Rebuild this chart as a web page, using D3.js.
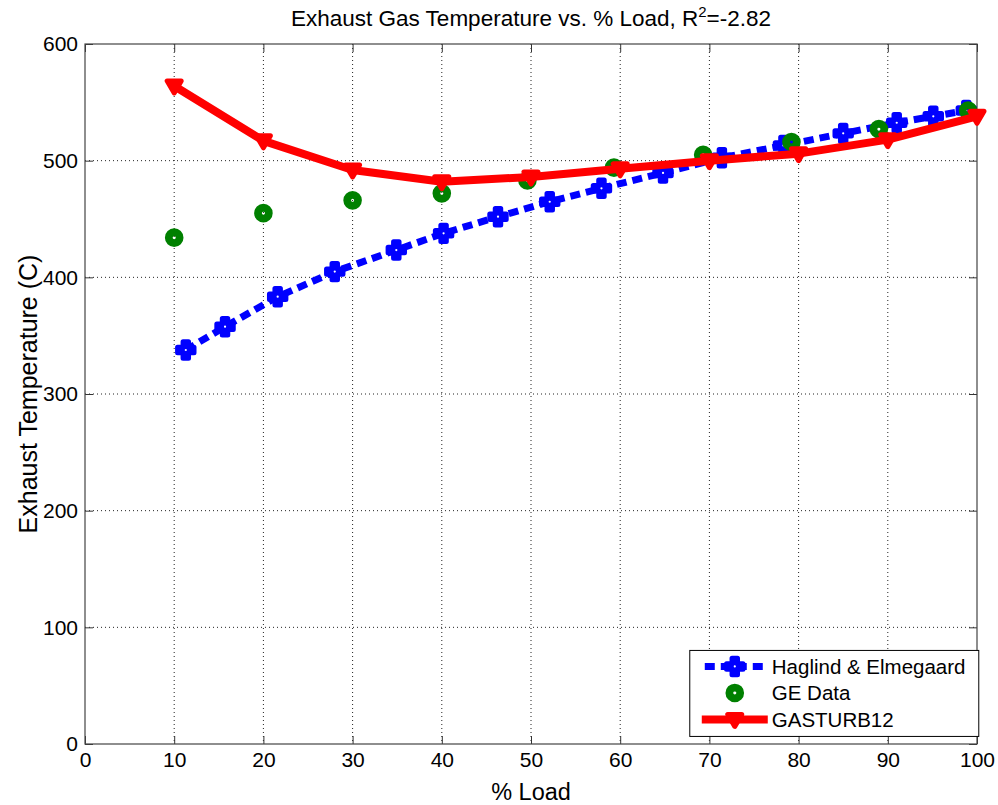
<!DOCTYPE html>
<html>
<head>
<meta charset="utf-8">
<script src="https://cdn.jsdelivr.net/npm/d3@7"></script>
<style>
  html, body { margin: 0; padding: 0; background: #fff; }
  svg { display: block; font-family: "Liberation Sans", Arial, sans-serif; }
</style>
</head>
<body>
<svg id="chart" width="998" height="805"></svg>
<script>
// Haglind & Elmegaard model curve
const loadHE = [11.3, 15.7, 21.6, 28.0, 34.9, 40.2, 46.3, 52.1, 57.9, 64.8, 71.4, 78.3, 85.0, 91.0, 95.1, 98.8];
const tempHE = [337.7, 357.7, 383.4, 404.9, 423.4, 437.7, 452, 464.8, 476.3, 489.5, 502.5, 513, 523.4, 532.5, 538, 543];

// GE measured data
const loadGE = [10, 20, 30, 40, 49.6, 59.3, 69.3, 79.2, 89.0, 99.0];
const tempGE = [434, 455, 466, 472, 483, 494, 505, 516, 527, 543];

// GASTURB12 simulation
const loadGT = [10, 20, 30, 40, 50, 60, 70, 80, 90, 100];
const tempGT = [564, 517, 492, 482, 486, 493, 500, 506, 518, 538];

const xTicks = [0, 10, 20, 30, 40, 50, 60, 70, 80, 90, 100];
const yTicks = [0, 100, 200, 300, 400, 500, 600];

const seriesNames = ["Haglind & Elmegaard", "GE Data", "GASTURB12"];
const seriesColors = ["#0000ff", "#008000", "#ff0000"];

const W = 998, H = 805;
const m = { left: 85, right: 21, top: 44, bottom: 61 };
const pw = W - m.left - m.right, ph = H - m.top - m.bottom;

const svg = d3.select("#chart");
const g = svg.append("g").attr("transform", `translate(${m.left},${m.top})`);

const x = d3.scaleLinear().domain([0, 100]).range([0, pw]);
const y = d3.scaleLinear().domain([0, 600]).range([ph, 0]);

// plot background
g.append("rect").attr("width", pw).attr("height", ph).attr("fill", "#fff");

// dotted grid
g.append("g").selectAll("line").data(xTicks.slice(1, -1)).join("line")
  .attr("x1", d => x(d)).attr("x2", d => x(d)).attr("y1", 0).attr("y2", ph)
  .attr("stroke", "#222").attr("stroke-width", 1).attr("stroke-dasharray", "1,3");
g.append("g").selectAll("line").data(yTicks.slice(1, -1)).join("line")
  .attr("y1", d => y(d)).attr("y2", d => y(d)).attr("x1", 0).attr("x2", pw)
  .attr("stroke", "#222").attr("stroke-width", 1).attr("stroke-dasharray", "1,3");

// axes with inward ticks
const tickFont = "21px";
g.append("g").attr("transform", `translate(0,${ph})`)
  .call(d3.axisBottom(x).tickValues(xTicks).tickSizeInner(-8).tickSizeOuter(0).tickPadding(8));
g.append("g")
  .call(d3.axisLeft(y).tickValues(yTicks).tickSizeInner(-8).tickSizeOuter(0).tickPadding(7));
g.append("g").call(d3.axisTop(x).tickValues(xTicks).tickSizeInner(-8).tickSizeOuter(0).tickFormat(""));
g.append("g").attr("transform", `translate(${pw},0)`)
  .call(d3.axisRight(y).tickValues(yTicks).tickSizeInner(-8).tickSizeOuter(0).tickFormat(""));
g.selectAll(".domain").remove();
g.selectAll(".tick line").attr("stroke", "#333");
g.selectAll(".tick text").attr("font-size", tickFont).attr("fill", "#000")
  .attr("font-family", "Liberation Sans, Arial, sans-serif");

g.append("rect").attr("width", pw).attr("height", ph)
  .attr("fill", "none").attr("stroke", "#444").attr("stroke-width", 1.2);

// data series
const line = d3.line().x(d => x(d[0])).y(d => y(d[1]));
const he = loadHE.map((v, i) => [v, tempHE[i]]);
const ge = loadGE.map((v, i) => [v, tempGE[i]]);
const gt = loadGT.map((v, i) => [v, tempGT[i]]);

const crossPath = d3.symbol().type(d3.symbolCross).size(150)();
const triPath = "M-7,-5L7,-5L0,7Z";

function blueMarker(sel) {
  sel.append("path").attr("d", crossPath).attr("fill", seriesColors[0])
    .attr("stroke", seriesColors[0]).attr("stroke-width", 5).attr("stroke-linejoin", "round");
  sel.append("circle").attr("r", 1.1).attr("fill", "#fff");
}
function greenMarker(sel) {
  sel.append("circle").attr("r", 5.4).attr("fill", "none")
    .attr("stroke", seriesColors[1]).attr("stroke-width", 7.8);
}
function redMarker(sel) {
  sel.append("path").attr("d", triPath).attr("fill", seriesColors[2])
    .attr("stroke", seriesColors[2]).attr("stroke-width", 5).attr("stroke-linejoin", "round");
}

g.append("path").datum(he).attr("d", line).attr("fill", "none")
  .attr("stroke", seriesColors[0]).attr("stroke-width", 7).attr("stroke-dasharray", "10,6");
g.append("g").selectAll("g").data(he).join("g")
  .attr("transform", d => `translate(${x(d[0])},${y(d[1])})`).call(blueMarker);

g.append("g").selectAll("g").data(ge).join("g")
  .attr("transform", d => `translate(${x(d[0])},${y(d[1])})`).call(greenMarker);

g.append("path").datum(gt).attr("d", line).attr("fill", "none")
  .attr("stroke", seriesColors[2]).attr("stroke-width", 8).attr("stroke-linejoin", "round");
g.append("g").selectAll("g").data(gt).join("g")
  .attr("transform", d => `translate(${x(d[0])},${y(d[1])})`).call(redMarker);

// legend
const lg = g.append("g").attr("transform", `translate(${x(67.8)},${y(80.2)})`);
lg.append("rect").attr("width", 289).attr("height", 86)
  .attr("fill", "#fff").attr("stroke", "#000").attr("stroke-width", 1);
const rows = [27, 53.5, 80];
seriesNames.forEach((name, i) => {
  const r = lg.append("g").attr("transform", `translate(0,${rows[i] - 11})`);
  if (i === 0) {
    r.append("line").attr("x1", 15).attr("x2", 75).attr("y1", 0).attr("y2", 0)
      .attr("stroke", seriesColors[0]).attr("stroke-width", 7).attr("stroke-dasharray", "10,6");
    r.append("g").attr("transform", "translate(45,0)").call(blueMarker);
  } else if (i === 1) {
    r.append("g").attr("transform", "translate(45,0)").call(greenMarker);
  } else {
    r.append("line").attr("x1", 12).attr("x2", 78).attr("y1", 0).attr("y2", 0)
      .attr("stroke", seriesColors[2]).attr("stroke-width", 8);
    r.append("g").attr("transform", "translate(45,0)").call(redMarker);
  }
  r.append("text").attr("x", 82).attr("y", 0).attr("dy", "0.35em")
    .attr("font-size", "20.5px").attr("fill", "#000").text(name);
});

// titles
const title = svg.append("text").attr("x", m.left + pw / 2).attr("y", 26)
  .attr("text-anchor", "middle").attr("font-size", "22.5px").attr("fill", "#000");
title.append("tspan").text("Exhaust Gas Temperature vs. % Load, R");
title.append("tspan").attr("font-size", "15px").attr("dy", "-9").text("2");
title.append("tspan").attr("dy", "9").text("=-2.82");

svg.append("text").attr("x", m.left + pw / 2).attr("y", 800)
  .attr("text-anchor", "middle").attr("font-size", "23.5px").attr("fill", "#000").text("% Load");

svg.append("text").attr("transform", `translate(37,${m.top + ph / 2}) rotate(-90)`)
  .attr("text-anchor", "middle").attr("font-size", "25px").attr("fill", "#000")
  .text("Exhaust Temperature (C)");
</script>
</body>
</html>
